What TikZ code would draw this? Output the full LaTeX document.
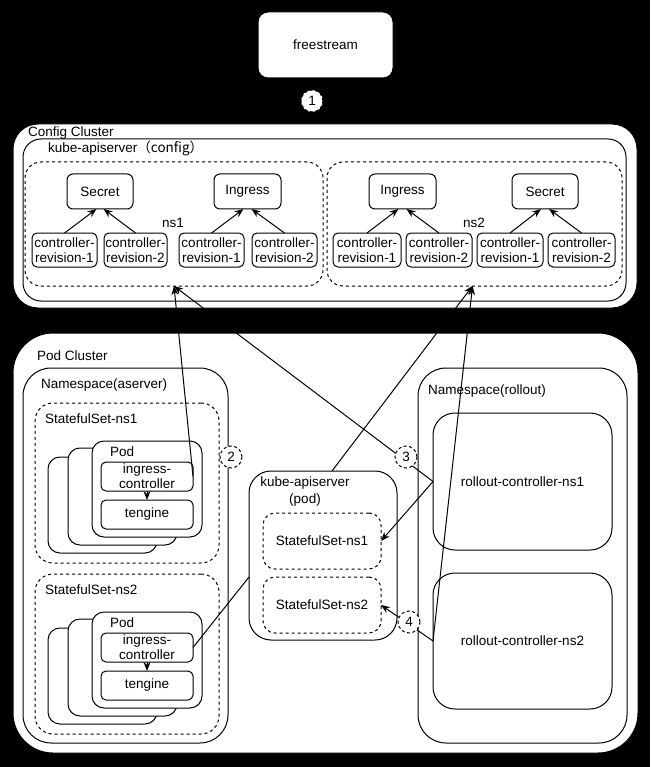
\documentclass[tikz,border=0pt]{standalone}
\usepackage{fontspec}
\setmainfont{Liberation Sans}
\newfontfamily\cjk{Noto Sans CJK SC}
\usetikzlibrary{arrows.meta}
\newcommand\fsz{\fontsize{13.5}{15}\selectfont}
\newcommand\bx[7]{\node[#1, minimum width={(#5-#3)*1pt}, minimum height={(#6-#4)*1pt}] (#2) at ({(#3+#5)/2},{(#4+#6)/2}) {#7};}
\tikzset{
  box/.style={draw, fill=white, line width=1pt, inner sep=0pt, outer sep=0pt, rounded corners=#1, align=center},
  box/.default=6pt,
  dbox/.style={box=#1, dash pattern=on 3pt off 3pt},
  dbox/.default=12pt,
  lab/.style={anchor=west, inner sep=0pt},
  ctr/.style={inner sep=0pt},
  circ/.style={circle, draw, fill=white, dash pattern=on 3pt off 2.5pt, line width=1pt, minimum size=22pt, inner sep=0pt},
  arr/.style={draw, line width=1pt, -{Stealth[length=9pt,width=7pt]}},
  plain/.style={draw, line width=1pt}
}
\begin{document}
\begin{tikzpicture}[x=1pt, y=-1pt, font=\fsz]
\useasboundingbox (0,0) rectangle (650,767);
\fill[black] (0,0) rectangle (650,767);

% freestream
\bx{box=10pt}{fs}{258}{12}{393}{78}{freestream}
\node[circ] (n1) at (312,101) {1};

% Config cluster
\bx{box=25pt}{cfg}{13}{124}{637}{308}{}
\bx{box=18pt}{kac}{23}{139}{626}{301}{}
\node[lab] (cfgl) at (28,133) {Config Cluster};
\node[lab] (kacl) at (48,148) {kube-apiserver\cjk{（}config\cjk{）}};
\bx{dbox=16pt}{ns1}{25}{162}{323}{286}{}
\bx{dbox=16pt}{ns2}{327}{162}{622}{286}{}
\node[ctr] (ns1l) at (173,223) {ns1};
\node[ctr] (ns2l) at (474,223) {ns2};

\bx{box=6pt}{sec1}{67}{174}{133}{209}{Secret}
\bx{box=6pt}{ingc1}{214}{174}{281}{209}{Ingress}
\bx{box=6pt}{ingc2}{369}{174}{436}{209}{Ingress}
\bx{box=6pt}{sec2}{512}{174}{578}{209}{Secret}

\bx{box=5pt}{cr1}{32}{233}{97}{267}{controller-\\revision-1}
\bx{box=5pt}{cr2}{104}{233}{167}{267}{controller-\\revision-2}
\bx{box=5pt}{cr3}{179}{233}{244}{267}{controller-\\revision-1}
\bx{box=5pt}{cr4}{252}{233}{317}{267}{controller-\\revision-2}
\bx{box=5pt}{cr5}{333}{233}{401}{267}{controller-\\revision-1}
\bx{box=5pt}{cr6}{406}{233}{472}{267}{controller-\\revision-2}
\bx{box=5pt}{cr7}{477}{233}{543}{267}{controller-\\revision-1}
\bx{box=5pt}{cr8}{548}{233}{615}{267}{controller-\\revision-2}

\draw[arr] (cr1.north) -- ([xshift=-3.5pt]sec1.south);
\draw[arr] (cr2.north) -- ([xshift=3.5pt]sec1.south);
\draw[arr] (cr3.north) -- ([xshift=-4pt]ingc1.south);
\draw[arr] (cr4.north) -- ([xshift=4pt]ingc1.south);
\draw[arr] (cr5.north) -- ([xshift=-4pt]ingc2.south);
\draw[arr] (cr6.north) -- ([xshift=4pt]ingc2.south);
\draw[arr] (cr7.north) -- ([xshift=-4pt]sec2.south);
\draw[arr] (cr8.north) -- ([xshift=4pt]sec2.south);

% Pod cluster
\bx{box=40pt}{podc}{13}{333}{638}{753}{}
\node[lab] (podcl) at (37,356) {Pod Cluster};

% Namespace aserver
\bx{box=28pt}{nsa}{23}{368}{228}{743}{}
\node[lab] (nsal) at (41,385) {Namespace(aserver)};

\bx{dbox=18pt}{ss1}{35}{403}{219}{563}{}
\node[lab] (ss1l) at (45,419) {StatefulSet-ns1};
\bx{box=12pt}{p1a}{48}{457}{157}{553}{}
\bx{box=12pt}{p1b}{68}{448}{177}{545}{}
\bx{box=12pt}{p1c}{92}{441}{202}{537}{}
\node[lab] (p1l) at (110,452) {Pod};
\bx{box=5pt}{ing1}{101}{462}{193}{491}{\fontsize{13.5}{16}\selectfont ingress-\\controller}
\bx{box=5pt}{ten1}{101}{500}{193}{529}{tengine}
\draw[arr] (ing1.south) -- (ten1.north);

\bx{dbox=18pt}{ss2}{35}{574}{219}{734}{}
\node[lab] (ss2l) at (45,590) {StatefulSet-ns2};
\bx{box=12pt}{p2a}{48}{628}{157}{724}{}
\bx{box=12pt}{p2b}{68}{619}{177}{716}{}
\bx{box=12pt}{p2c}{92}{612}{202}{708}{}
\node[lab] (p2l) at (110,623) {Pod};
\bx{box=5pt}{ing2}{101}{633}{193}{662}{\fontsize{13.5}{16}\selectfont ingress-\\controller}
\bx{box=5pt}{ten2}{101}{671}{193}{700}{tengine}
\draw[arr] (ing2.south) -- (ten2.north);

\node[circ] (n2) at (231,457) {2};

% kube-apiserver pod
\bx{box=22pt}{kap}{249}{471}{397}{640}{}
\node[ctr, align=center, font=\fontsize{13.5}{17}\selectfont] (kapl) at (305,492) {kube-apiserver\\(pod)};
\bx{dbox=12pt}{ss1p}{263}{513}{381}{569}{StatefulSet-ns1}
\bx{dbox=12pt}{ss2p}{263}{577}{381}{633}{StatefulSet-ns2}

% Namespace rollout
\bx{box=28pt}{nsr}{418}{368}{627}{743}{}
\node[lab] (nsrl) at (428,391) {Namespace(rollout)};
\bx{box=22pt}{rc1}{433}{413}{612}{550}{rollout-controller-ns1}
\bx{box=22pt}{rc2}{433}{573}{612}{709}{rollout-controller-ns2}

% connectors
\draw[arr] (ing1.east) -- (ns1.south);
\draw[arr] (rc1.west) -- (ns1.south);
\draw[arr] (rc1.west) -- (ss1p.east);
\draw[arr] (rc2.west) -- ([xshift=-2pt]ns2.south);
\draw[arr] ([xshift=9pt]kap.north) -- ([xshift=-2pt]ns2.south);
\draw[arr] (rc2.west) -- (ss2p.east);
\draw[plain] (ing2.east) -- ([yshift=-21.5pt]kap.west);

\node[circ] (n3) at (406,457) {3};
\node[circ] (n4) at (409,622) {4};
\end{tikzpicture}
\end{document}
